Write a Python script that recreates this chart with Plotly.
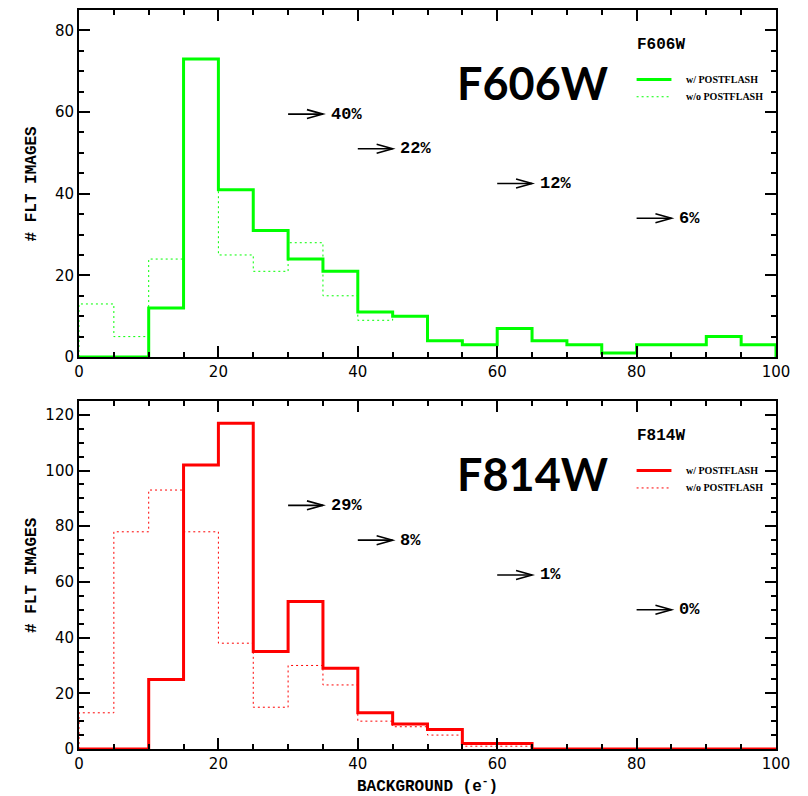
import plotly.graph_objects as go

# ---- data -------------------------------------------------------------
bin_edges = list(range(0, 101, 5))          # BACKGROUND (e-) bins, width 5

f606w_flash = [0, 0, 12, 73, 41, 31, 24, 21, 11, 10, 4, 3, 7, 4, 3, 1, 3, 3, 5, 3]
f606w_noflash = [13, 5, 24, 73, 25, 21, 28, 15, 9, 10, 4, 3, 7, 4, 3, 1, 3, 3, 5, 3]

f814w_flash = [0, 0, 25, 102, 117, 35, 53, 29, 13, 9, 7, 2, 2, 0, 0, 0, 0, 0, 0, 0]
f814w_noflash = [13, 78, 93, 78, 38, 15, 30, 23, 10, 8, 5, 1, 1, 0, 0, 0, 0, 0, 0, 0]

# arrow start (x), label and vertical position (fraction of panel height)
arrow_x = [30, 40, 60, 80]
arrow_frac = [0.70, 0.60, 0.50, 0.40]
f606w_pct = ["40%", "22%", "12%", "6%"]
f814w_pct = ["29%", "8%", "1%", "0%"]

y_max_top, y_max_bot = 85, 125
x_ticks = [0, 20, 40, 60, 80, 100]

GREEN = "rgb(0,255,0)"
RED = "rgb(255,0,0)"

# ---- geometry ---------------------------------------------------------
W, H = 808, 796
ML, MR, MT, MB = 79, 32, 8, 47
PW, PH = W - ML - MR, H - MT - MB
top_dom = [0.5304, 1.0]
bot_dom = [0.0, 0.471]

MONO = "Liberation Mono"


def outline(edges, values):
    """Closed step outline of a histogram (drops to 0 at both ends)."""
    xs, ys = [edges[0]], [0]
    for i, v in enumerate(values):
        xs += [edges[i], edges[i + 1]]
        ys += [v, v]
    xs.append(edges[-1])
    ys.append(0)
    return xs, ys


fig = go.Figure()

panels = [
    dict(xa="x", ya="y", yref="y", ymax=y_max_top, dom=top_dom, color=GREEN,
         flash=f606w_flash, noflash=f606w_noflash, pct=f606w_pct, name="F606W"),
    dict(xa="x2", ya="y2", yref="y2", ymax=y_max_bot, dom=bot_dom, color=RED,
         flash=f814w_flash, noflash=f814w_noflash, pct=f814w_pct, name="F814W"),
]

shapes, annotations = [], []
for p in panels:
    xs, ys = outline(bin_edges, p["noflash"])
    fig.add_trace(go.Scatter(x=xs, y=ys, mode="lines", xaxis=p["xa"], yaxis=p["ya"],
                             line=dict(color=p["color"], width=1, dash="2px,3px"),
                             showlegend=False, hoverinfo="skip"))
    xs, ys = outline(bin_edges, p["flash"])
    fig.add_trace(go.Scatter(x=xs, y=ys, mode="lines", xaxis=p["xa"], yaxis=p["ya"],
                             line=dict(color=p["color"], width=3),
                             showlegend=False, hoverinfo="skip"))

    ymax = p["ymax"]
    panel_px = (p["dom"][1] - p["dom"][0]) * PH
    ux = 100 / PW              # data units per pixel, x
    uy = ymax / panel_px       # data units per pixel, y
    xref = p["xa"]
    yref = p["yref"]
    ydom = yref + " domain"

    # arrows with percentage labels
    for ax0, fr, txt in zip(arrow_x, arrow_frac, p["pct"]):
        yy = fr * ymax
        tip = ax0 + 5
        hl, hw = 16 * ux, 4.5 * uy
        shapes.append(dict(type="path", xref=xref, yref=yref,
                           path=f"M{ax0},{yy} L{tip},{yy}",
                           line=dict(color="black", width=1.6)))
        shapes.append(dict(type="path", xref=xref, yref=yref,
                           path=f"M{tip - hl},{yy + hw} L{tip},{yy} L{tip - hl},{yy - hw}",
                           line=dict(color="black", width=1.6)))
        annotations.append(dict(x=ax0 + 5.8, y=yy, xref=xref, yref=yref, text=txt,
                                showarrow=False, xanchor="left", yanchor="middle",
                                font=dict(family=MONO, size=17, color="black", weight="bold")))

    # big filter name
    annotations.append(dict(x=65, y=0.79, xref=xref, yref=ydom, text=p["name"],
                            showarrow=False, xanchor="center", yanchor="middle",
                            font=dict(family="Lato", size=45, color="black", weight="bold")))

    # key
    annotations.append(dict(x=79.7, y=0.9, xref=xref, yref=ydom, text=p["name"],
                            showarrow=False, xanchor="left", yanchor="middle",
                            font=dict(family=MONO, size=16, color="black", weight="bold")))
    for fr, lab, st in [(0.80, "w/ POSTFLASH", dict(width=3)),
                        (0.75, "w/o POSTFLASH", dict(width=1, dash="2px,3px"))]:
        shapes.append(dict(type="line", xref=xref, yref=ydom, x0=80, x1=85, y0=fr, y1=fr,
                           line=dict(color=p["color"], **st)))
        annotations.append(dict(x=86.8, y=fr, xref=xref, yref=ydom, text=lab,
                                showarrow=False, xanchor="left", yanchor="middle",
                                font=dict(family="Liberation Serif", size=10, color="black",
                                          weight="bold")))

    # y-axis title
    annotations.append(dict(x=(32 - ML) / PW, y=0.5, xref="paper", yref=ydom,
                            text="# FLT IMAGES", textangle=-90, showarrow=False,
                            xanchor="center", yanchor="middle",
                            font=dict(family=MONO, size=16, color="black", weight="bold")))

annotations.append(dict(x=0.5, y=-(786 - (MT + PH)) / PH, xref="paper", yref="paper",
                        text="BACKGROUND (e<sup>-</sup>)", showarrow=False,
                        xanchor="center", yanchor="middle",
                        font=dict(family=MONO, size=16, color="black", weight="bold")))

axis_common = dict(showline=True, linewidth=2, linecolor="black", mirror="allticks",
                   ticks="inside", ticklen=11, tickwidth=1.5, tickcolor="black",
                   showgrid=False, zeroline=False,
                   tickfont=dict(family="DejaVu Sans", size=15, color="black"),
                   minor=dict(ticks="inside", ticklen=5, tickwidth=1.5, tickcolor="black",
                              dtick=5, showgrid=False))

fig.update_layout(
    width=W, height=H,
    margin=dict(l=ML, r=MR, t=MT, b=MB),
    paper_bgcolor="white", plot_bgcolor="white",
    showlegend=False,
    xaxis=dict(axis_common, range=[0, 100], tickvals=x_ticks, anchor="y"),
    yaxis=dict(axis_common, range=[0, y_max_top], dtick=20, domain=top_dom, anchor="x"),
    xaxis2=dict(axis_common, range=[0, 100], tickvals=x_ticks, anchor="y2"),
    yaxis2=dict(axis_common, range=[0, y_max_bot], dtick=20, domain=bot_dom, anchor="x2"),
    shapes=shapes,
    annotations=annotations,
)

fig.write_html("out.html")
